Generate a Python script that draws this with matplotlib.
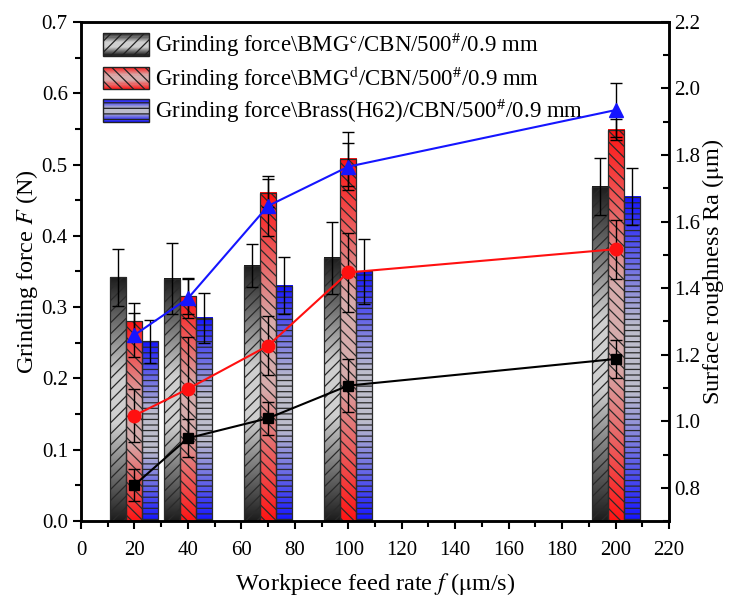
import numpy as np
import matplotlib
matplotlib.use('Agg')
import matplotlib.pyplot as plt
from matplotlib.colors import LinearSegmentedColormap
from matplotlib.patches import Rectangle, Patch
from matplotlib.legend_handler import HandlerBase
from matplotlib.ticker import MultipleLocator

plt.rcParams['font.family'] = ['Liberation Serif', 'DejaVu Serif']
plt.rcParams['mathtext.fontset'] = 'stix'
plt.rcParams['hatch.linewidth'] = 0.9

# data
feed = [20, 40, 70, 100, 200]

force_bmg_c = [0.342, 0.340, 0.358, 0.369, 0.469]
force_bmg_c_err = [0.040, 0.050, 0.030, 0.050, 0.040]
force_bmg_d = [0.280, 0.315, 0.460, 0.508, 0.549]
force_bmg_d_err = [0.026, 0.024, 0.020, 0.038, 0.015]
force_brass = [0.252, 0.285, 0.330, 0.350, 0.455]
force_brass_err = [0.030, 0.035, 0.040, 0.045, 0.040]

ra_bmg_c = [0.808, 0.949, 1.009, 1.107, 1.187]
ra_bmg_c_err = [0.048, 0.057, 0.049, 0.080, 0.057]
ra_bmg_d = [1.017, 1.097, 1.227, 1.447, 1.517]
ra_bmg_d_err = [0.080, 0.155, 0.089, 0.120, 0.089]
ra_brass = [1.259, 1.369, 1.647, 1.765, 1.935]
ra_brass_err = [0.065, 0.060, 0.090, 0.070, 0.080]

labels = [r'Grinding force\BMG$^{\rm c}$/CBN/500$^{\#}$/0.9 mm',
          r'Grinding force\BMG$^{\rm d}$/CBN/500$^{\#}$/0.9 mm',
          r'Grinding force\Brass(H62)/CBN/500$^{\#}$/0.9 mm']


def grad_cmap(dark, light):
    return LinearSegmentedColormap.from_list(
        'g', [(0, dark), (0.4, light), (0.6, light), (1, dark)])


cmaps = [grad_cmap('#1c1c1c', '#cfcfcf'),
         grad_cmap('#ff1414', '#d6acac'),
         grad_cmap('#1414ff', '#bdbdcc')]
hatches = ['///', '\\\\\\', '---']


class GradHandler(HandlerBase):
    def __init__(self, cmap, hatch):
        super().__init__()
        self.cmap = cmap
        self.hatch = hatch

    def create_artists(self, legend, orig_handle, xdescent, ydescent,
                       width, height, fontsize, trans):
        arts = []
        n = 20
        for i in range(n):
            arts.append(Rectangle((-xdescent, -ydescent + height * i / n), width,
                                  height / n * 1.05, facecolor=self.cmap((i + 0.5) / n),
                                  edgecolor='none', transform=trans))
        arts.append(Rectangle((-xdescent, -ydescent), width, height, facecolor='none',
                              edgecolor='#222222', hatch=self.hatch, lw=1.0,
                              transform=trans))
        return arts


fig = plt.figure(figsize=(7.36, 6.08), dpi=100)
ax = fig.add_axes([0.110, 0.143, 0.799, 0.821])

w = 6.0
grad = np.linspace(0, 1, 256).reshape(-1, 1)
series = [(force_bmg_c, force_bmg_c_err, -w),
          (force_bmg_d, force_bmg_d_err, 0),
          (force_brass, force_brass_err, w)]
for (vals, errs, off), cm, hat in zip(series, cmaps, hatches):
    xs = [x + off for x in feed]
    for xi, h in zip(xs, vals):
        ax.imshow(grad, extent=(xi - w / 2, xi + w / 2, 0, h), origin='lower',
                  aspect='auto', cmap=cm, interpolation='bilinear', zorder=1)
    ax.bar(xs, vals, w, facecolor='none', edgecolor='#2a2a2a', hatch=hat,
           lw=0.9, zorder=2)
    ax.errorbar(xs, vals, yerr=errs, fmt='none', ecolor='black', elinewidth=1,
                capsize=4, capthick=1, zorder=3)

ax.set_xlim(0, 220)
ax.set_ylim(0, 0.7)
ax.xaxis.set_major_locator(MultipleLocator(20))
ax.xaxis.set_minor_locator(MultipleLocator(10))
ax.yaxis.set_major_locator(MultipleLocator(0.1))
ax.yaxis.set_minor_locator(MultipleLocator(0.05))
ax.tick_params(which='both', direction='out', width=1.5, labelsize=15)
ax.tick_params(which='major', length=6)
ax.tick_params(which='minor', length=4)
ax.tick_params(axis='x', pad=8)
ax.tick_params(axis='y', right=False)
for s in ax.spines.values():
    s.set_linewidth(1.8)
ax.set_xlabel(r'Workpiece feed rate $f$ ($\mathrm{\mu}$m/s)', fontsize=17.5, labelpad=8)
ax.set_ylabel(r'Grinding force $F$ (N)', fontsize=17.5, labelpad=1)

ax2 = ax.twinx()
ax2.errorbar(feed, ra_bmg_c, yerr=ra_bmg_c_err, color='black', marker='s', ms=7,
             lw=1.5, ecolor='black', elinewidth=1, capsize=4, capthick=1)
ax2.errorbar(feed, ra_bmg_d, yerr=ra_bmg_d_err, color='#ff1010', marker='o', ms=9,
             lw=1.5, ecolor='black', elinewidth=1, capsize=4, capthick=1)
ax2.errorbar(feed, ra_brass, yerr=ra_brass_err, color='#1515ff', marker='^', ms=10,
             lw=1.5, ecolor='black', elinewidth=1, capsize=4, capthick=1)
ax2.set_ylim(0.7, 2.2)
ax2.yaxis.set_major_locator(MultipleLocator(0.2))
ax2.yaxis.set_minor_locator(MultipleLocator(0.1))
ax2.set_yticks(np.arange(0.8, 2.21, 0.2))
ax2.tick_params(which='both', direction='in', width=1.5, labelsize=15)
ax2.tick_params(which='major', length=6)
ax2.tick_params(which='minor', length=4)
for s in ax2.spines.values():
    s.set_linewidth(1.8)
ax2.set_ylabel(r'Surface roughness Ra ($\mathrm{\mu}$m)', fontsize=17.5, labelpad=0)

proxies = [Patch(label=l) for l in labels]
hmap = {p: GradHandler(cm, h) for p, cm, h in zip(proxies, cmaps, hatches)}
ax.legend(handles=proxies, handler_map=hmap, loc='upper left',
          bbox_to_anchor=(0.037, 0.982), frameon=False, fontsize=16.5,
          borderpad=0, borderaxespad=0,
          handlelength=2.0, handleheight=1.13, labelspacing=0.2, handletextpad=0.3)

fig.savefig('out.png', dpi=100)
